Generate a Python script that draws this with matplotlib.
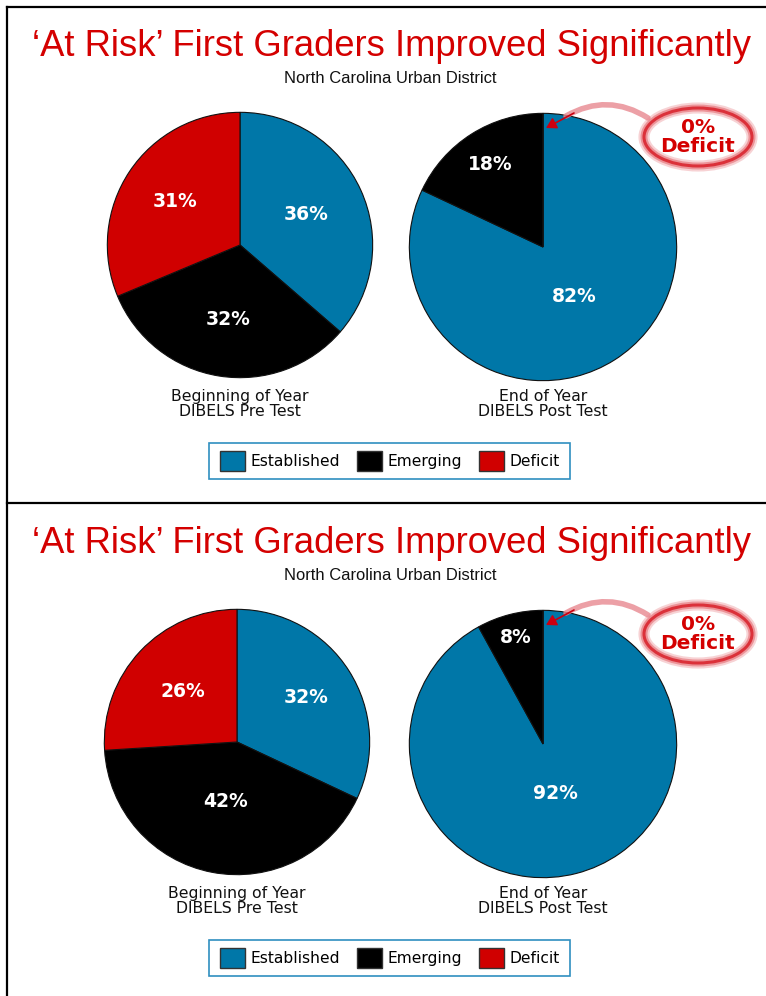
import matplotlib
matplotlib.use("Agg")
import numpy as np
import matplotlib.pyplot as plt
from matplotlib.patches import Patch, Ellipse, FancyArrowPatch, Rectangle
from matplotlib.lines import Line2D

# data
categories = ['Established', 'Emerging', 'Deficit']
pre_top = [36, 32, 31]
post_top = [82, 18, 0]
pre_bottom = [32, 42, 26]
post_bottom = [92, 8, 0]
pre_label = 'Beginning of Year\nDIBELS Pre Test'
post_label = 'End of Year\nDIBELS Post Test'
title = '\u2018At Risk\u2019 First Graders Improved Significantly'
subtitle = 'North Carolina Urban District'
callout = '0%\nDeficit'

colors = ['#0077a8', '#000000', '#d00000']
RED = '#d40000'

W, H = 766, 996
fig = plt.figure(figsize=(W / 100, H / 100), dpi=100)
fig.patch.set_facecolor('white')

# overlay in pixel coordinates
ov = fig.add_axes([0, 0, 1, 1], zorder=5)
ov.set_xlim(0, W)
ov.set_ylim(H, 0)
ov.axis('off')
ov.patch.set_alpha(0)

renderer = fig.canvas.get_renderer()


def fit_text(x, y, s, width, **kw):
    t = ov.text(x, y, s, ha='center', va='center', **kw)
    bb = t.get_window_extent(renderer)
    t.set_fontsize(t.get_fontsize() * width / bb.width)
    return t


def pie_at(cx, cy, r, values, dists):
    ax = fig.add_axes([(cx - r) / W, 1 - (cy + r) / H, 2 * r / W, 2 * r / H])
    wedges, _ = ax.pie(values, colors=colors, startangle=90, counterclock=False,
                       wedgeprops=dict(edgecolor='#111111', linewidth=0.8))
    ax.set_xlim(-1.01, 1.01)
    ax.set_ylim(-1.01, 1.01)
    ax.set_aspect('equal')
    for w, v, d in zip(wedges, values, dists):
        if v == 0:
            continue
        ang = np.deg2rad((w.theta1 + w.theta2) / 2)
        ax.text(d * np.cos(ang), d * np.sin(ang), f'{v}%', ha='center', va='center',
                color='white', fontsize=13.5, fontweight='bold', family='DejaVu Sans')
    return ax


def panel(dy, pre, post, pre_d, post_d, lcx):
    fit_text(391, 46 + dy, title, 717, color=RED, fontsize=26, family='Liberation Sans')
    fit_text(390, 78 + dy, subtitle, 210, color='#111111', fontsize=11, family='Liberation Sans')
    pie_at(lcx, 245 + dy, 134, pre, pre_d)
    pie_at(543, 247 + dy, 135, post, post_d)
    ov.text(lcx, 404 + dy, pre_label, ha='center', va='center', fontsize=11.3,
            linespacing=1.0, color='#111111', family='DejaVu Sans')
    ov.text(543, 404 + dy, post_label, ha='center', va='center', fontsize=11.3,
            linespacing=1.0, color='#111111', family='DejaVu Sans')

    # callout ellipse and arrow
    for lw, a in [(8, 0.2), (5, 0.35), (2.2, 0.85)]:
        ov.add_patch(Ellipse((698, 137 + dy), 108, 58, fill=False,
                             edgecolor='#d8202a', lw=lw, alpha=a))
    ov.text(698, 137 + dy, callout, ha='center', va='center', color=RED,
            fontsize=14.5, fontweight='bold', linespacing=0.95, family='DejaVu Sans')
    ov.add_patch(FancyArrowPatch((648, 118 + dy), (566, 116 + dy),
                                 connectionstyle='arc3,rad=0.3', arrowstyle='-',
                                 color='#e88890', lw=4, alpha=0.8,
                                 shrinkA=0, shrinkB=0))
    ov.add_patch(FancyArrowPatch((574, 113 + dy), (546, 128 + dy),
                                 arrowstyle='-|>,head_length=6,head_width=3.5',
                                 color='#cc0010', lw=1.2, shrinkA=0, shrinkB=0))

    # legend
    ov.add_patch(Rectangle((209, 443 + dy), 361, 36, fill=False,
                           edgecolor='#2f8fc0', lw=1.2))
    handles = [Patch(facecolor=c, edgecolor='#333333', lw=1) for c in colors]
    leg = fig.legend(handles, categories, ncol=3, loc='center',
                     bbox_to_anchor=(390 / W, 1 - (461 + dy) / H),
                     frameon=False, fontsize=11.2,
                     handlelength=1.6, handleheight=1.6, handletextpad=0.35,
                     columnspacing=1.1, borderpad=0.3, borderaxespad=0)
    for t in leg.get_texts():
        t.set_family('DejaVu Sans')


panel(0, pre_top, post_top, [0.55, 0.57, 0.59], [0.44, 0.73, 0.5], 240)
panel(497, pre_bottom, post_bottom, [0.62, 0.46, 0.56], [0.38, 0.82, 0.5], 237)

# panel borders
for xs, ys in [([7, 7], [7, H]), ([7, W], [7, 7]), ([7, W], [503, 503])]:
    ov.add_line(Line2D(xs, ys, color='black', lw=1.6))

fig.savefig('out.png', dpi=100, facecolor='white')
